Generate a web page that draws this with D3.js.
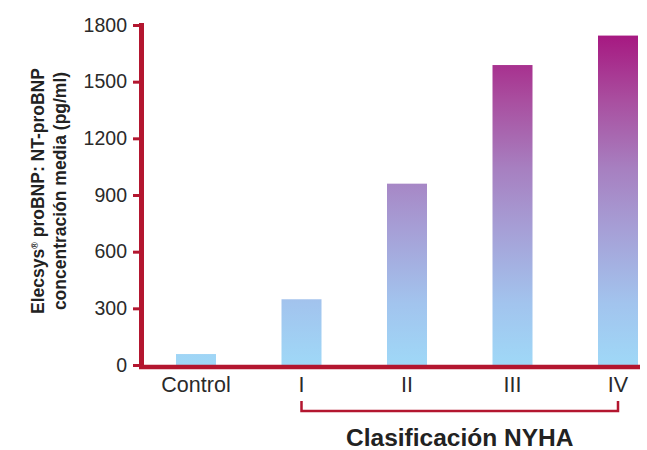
<!DOCTYPE html>
<html>
<head>
<meta charset="utf-8">
<script src="https://cdn.jsdelivr.net/npm/d3@7"></script>
<style>
  html, body { margin: 0; padding: 0; background: #ffffff; }
  svg { display: block; }
</style>
</head>
<body>
<svg id="chart" width="647" height="450"></svg>
<script>
// NT-proBNP median concentration by NYHA class
const categories = ["Control", "I", "II", "III", "IV"];
const values = [58, 348, 960, 1588, 1744];
const yTicks = [0, 300, 600, 900, 1200, 1500, 1800];
const yLabelLines = ["Elecsys", "concentración media (pg/ml)"];
const groupTitle = "Clasificación NYHA";

const red = "#b3162f";
const textColor = "#2a2a2a";

const svg = d3.select("#chart");

const y = d3.scaleLinear().domain([0, 1800]).range([365, 25]);
const x = d3.scalePoint().domain(categories).range([196, 618]);
const barW = 40;

// vertical gradient shared by all bars (user space, so colour follows height)
const defs = svg.append("defs");
const grad = defs.append("linearGradient")
  .attr("id", "barGrad")
  .attr("gradientUnits", "userSpaceOnUse")
  .attr("x1", 0).attr("x2", 0)
  .attr("y1", y(0)).attr("y2", y(1800));
[
  [0.00, "#9fd8f7"],
  [0.18, "#a2c4ee"],
  [0.40, "#a69fd6"],
  [0.58, "#a77fc0"],
  [0.78, "#a94e9f"],
  [1.00, "#a6107c"]
].forEach(([o, c]) => grad.append("stop").attr("offset", o).attr("stop-color", c));

svg.append("g")
  .selectAll("rect")
  .data(categories.map((c, i) => ({ c, v: values[i] })))
  .join("rect")
  .attr("x", d => x(d.c) - barW / 2)
  .attr("width", barW)
  .attr("y", d => y(d.v))
  .attr("height", d => y(0) - y(d.v))
  .attr("fill", "url(#barGrad)");

// y axis ticks and labels
const yAxis = d3.axisLeft(y)
  .tickValues(yTicks)
  .tickFormat(d3.format("d"))
  .tickSize(8)
  .tickPadding(6);

const gy = svg.append("g")
  .attr("transform", "translate(141,0)")
  .call(yAxis);
gy.select(".domain").remove();
gy.selectAll(".tick line").attr("stroke", red).attr("stroke-width", 3);
gy.selectAll(".tick text")
  .attr("fill", textColor)
  .attr("font-family", "'Liberation Sans Narrow', 'Liberation Sans', Arial, sans-serif")
  .attr("font-size", 19.5);

// axis lines
svg.append("line")
  .attr("x1", 141.5).attr("x2", 141.5)
  .attr("y1", y(1800) - 2).attr("y2", y(0) + 4)
  .attr("stroke", red).attr("stroke-width", 5);
svg.append("line")
  .attr("x1", 139).attr("x2", 640)
  .attr("y1", y(0) + 2).attr("y2", y(0) + 2)
  .attr("stroke", red).attr("stroke-width", 4.5);

// category labels
svg.append("g")
  .selectAll("text")
  .data(categories)
  .join("text")
  .attr("x", d => x(d))
  .attr("y", 392)
  .attr("text-anchor", "middle")
  .attr("fill", textColor)
  .attr("font-family", "'Liberation Sans', Arial, sans-serif")
  .attr("font-size", 21.5)
  .text(d => d);

// bracket grouping NYHA classes I–IV
const bx0 = x("I"), bx1 = x("IV");
svg.append("path")
  .attr("d", `M${bx0},401 V411 H${bx1} V401`)
  .attr("fill", "none")
  .attr("stroke", red)
  .attr("stroke-width", 2.5);

svg.append("text")
  .attr("x", (bx0 + bx1) / 2)
  .attr("y", 446)
  .attr("text-anchor", "middle")
  .attr("fill", "#222")
  .attr("font-family", "'Liberation Sans', Arial, sans-serif")
  .attr("font-weight", "bold")
  .attr("font-size", 24.5)
  .text(groupTitle);

// rotated y-axis title, two lines
const yt = svg.append("text")
  .attr("transform", "translate(0,191) rotate(-90)")
  .attr("text-anchor", "middle")
  .attr("fill", "#222")
  .attr("font-family", "'Liberation Sans', Arial, sans-serif")
  .attr("font-weight", "bold")
  .attr("font-size", 17.5);
const l1 = yt.append("tspan").attr("x", 0).attr("y", 44);
l1.append("tspan").text(yLabelLines[0]);
l1.append("tspan").attr("font-size", 9).attr("dy", -6).text("®");
l1.append("tspan").attr("dy", 6).text(" proBNP: NT-proBNP");
yt.append("tspan").attr("x", 0).attr("y", 66).text(yLabelLines[1]);
</script>
</body>
</html>
